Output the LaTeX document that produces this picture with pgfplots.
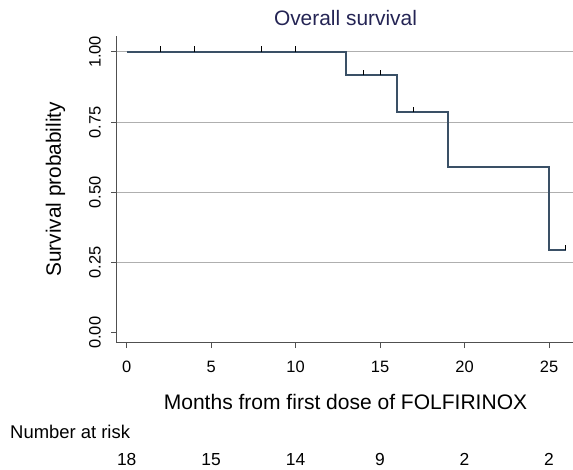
\documentclass[border=0pt]{standalone}
\usepackage{fontspec}
\setmainfont{Liberation Sans}
\usepackage{pgfplots}
\pgfplotsset{compat=1.18}
\definecolor{kmline}{RGB}{58,80,102}
\definecolor{titlecol}{RGB}{36,36,84}
\definecolor{axcol}{RGB}{80,80,80}
\definecolor{gridcol}{RGB}{175,175,175}
\pgfdeclareplotmark{cens}{%
  \pgfpathmoveto{\pgfpoint{0pt}{0pt}}%
  \pgfpathlineto{\pgfpoint{0pt}{5.5bp}}%
  \pgfusepathqstroke}
\begin{document}
\begin{tikzpicture}[x=1bp,y=1bp]
\path[use as bounding box] (-116.7bp,-127.3bp) rectangle (456.3bp,342.7bp);
\begin{axis}[
  at={(0,0)}, anchor=south west,
  scale only axis, width=456.3bp, height=306.7bp,
  xmin=-0.592, xmax=26.42, ymin=-0.0355, ymax=1.0568,
  axis x line*=bottom, axis y line*=left,
  axis line style={-, line width=1.5bp, color=axcol},
  xtick={0,5,10,15,20,25},
  xticklabels={0,5,10,15,20,25},
  ytick={0,0.25,0.5,0.75,1},
  yticklabels={0.00,0.25,0.50,0.75,1.00},
  extra y ticks={0.25,0.5,0.75,1},
  extra y tick labels={},
  extra y tick style={grid=major, major tick length=0pt},
  grid style={line width=1.1bp, color=gridcol},
  tick align=outside,
  major tick length=5.5bp,
  tick style={line width=1bp, color=axcol},
  ticklabel style={font=\fontsize{16.5}{18}\selectfont},
  xticklabel style={anchor=base, yshift=-24bp},
  yticklabel style={xshift=-7bp, rotate=90, anchor=south},
  clip=false,
]
\addplot[const plot, color=kmline, line width=1.9bp] coordinates {
  (0,1) (13,0.9167) (16,0.7857) (19,0.5893) (25,0.2946) (26,0.2946)
};
\addplot[only marks, mark=cens, mark options={line width=0.9bp, color=black}] coordinates {
  (2,1) (4,1) (8,1) (10,1) (14,0.9167) (15,0.9167) (17,0.7857) (26,0.2946)
};
\node[anchor=base, font=\fontsize{17.5}{19}\selectfont] at (axis cs:0,-0.473) {18};
\node[anchor=base, font=\fontsize{17.5}{19}\selectfont] at (axis cs:5,-0.473) {15};
\node[anchor=base, font=\fontsize{17.5}{19}\selectfont] at (axis cs:10,-0.473) {14};
\node[anchor=base, font=\fontsize{17.5}{19}\selectfont] at (axis cs:15,-0.473) {9};
\node[anchor=base, font=\fontsize{17.5}{19}\selectfont] at (axis cs:20,-0.473) {2};
\node[anchor=base, font=\fontsize{17.5}{19}\selectfont] at (axis cs:25,-0.473) {2};
\end{axis}
\node[anchor=base, text=titlecol, font=\fontsize{21}{24}\selectfont] at (228.8bp,316.7bp) {Overall survival};
\node[anchor=base, font=\fontsize{21.1}{24}\selectfont] at (228.8bp,-66.3bp) {Months from first dose of FOLFIRINOX};
\node[anchor=base, rotate=90, font=\fontsize{20.9}{24}\selectfont] at (-55.7bp,153.4bp) {Survival probability};
\node[anchor=base west, inner sep=0pt, font=\fontsize{18.5}{21}\selectfont] at (-106.7bp,-95.3bp) {Number at risk};
\end{tikzpicture}
\end{document}
